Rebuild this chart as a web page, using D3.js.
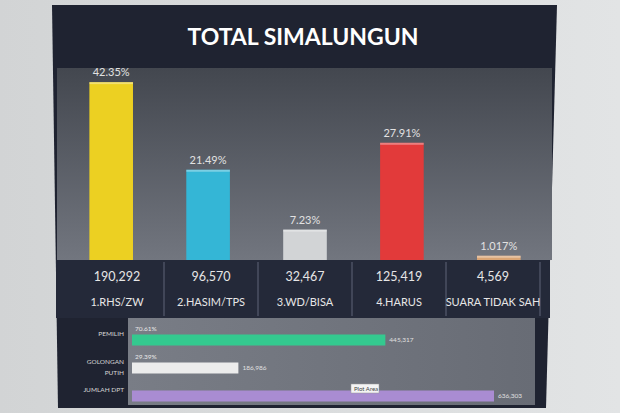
<!DOCTYPE html>
<html>
<head>
<meta charset="utf-8">
<script src="https://cdn.jsdelivr.net/npm/d3@7"></script>
<style>
  body { margin: 0; background: #d7d9da; }
  svg { display: block; }
  text { font-family: Lato, "Open Sans", sans-serif; }
</style>
</head>
<body>
<svg id="chart" width="620" height="413"></svg>
<script>
// main bars
var candidates = ["1.RHS/ZW", "2.HASIM/TPS", "3.WD/BISA", "4.HARUS", "SUARA TIDAK SAH"];
var percents = [42.35, 21.49, 7.23, 27.91, 1.017];
var percentLabels = ["42.35%", "21.49%", "7.23%", "27.91%", "1.017%"];
var votes = ["190,292", "96,570", "32,467", "125,419", "4,569"];
var barColors = ["#ecd022", "#34b6d6", "#d2d4d6", "#e23a3a", "#d9a474"];

// bottom bars
var rows = ["PEMILIH", "GOLONGAN PUTIH", "JUMLAH DPT"];
var rowValues = [445317, 186986, 636303];
var rowValueLabels = ["445,317", "186,986", "636,303"];
var rowPercents = ["70.61%", "29.39%", ""];
var rowColors = ["#34c98f", "#ececec", "#a98cd2"];

var svg = d3.select("#chart");
var defs = svg.append("defs");

var g1 = defs.append("linearGradient").attr("id", "plotbg").attr("x1", 0).attr("y1", 0).attr("x2", 0).attr("y2", 1);
g1.append("stop").attr("offset", "0%").attr("stop-color", "#43474f");
g1.append("stop").attr("offset", "100%").attr("stop-color", "#72767f");

var g2 = defs.append("linearGradient").attr("id", "lowbg").attr("x1", 0).attr("y1", 0).attr("x2", 1).attr("y2", 0);
g2.append("stop").attr("offset", "0%").attr("stop-color", "#797d86");
g2.append("stop").attr("offset", "100%").attr("stop-color", "#686c75");

var g3 = defs.append("linearGradient").attr("id", "wall").attr("x1", 0).attr("y1", 0).attr("x2", 1).attr("y2", 0);
g3.append("stop").attr("offset", "0%").attr("stop-color", "#d2d4d5");
g3.append("stop").attr("offset", "100%").attr("stop-color", "#e2e4e5");
svg.append("rect").attr("width", 620).attr("height", 413).attr("fill", "url(#wall)");

// monitor panel
svg.append("path")
  .attr("d", "M52,5 L557,5 L546,408 L58,408 Z")
  .attr("fill", "#1f2331");

// title
svg.append("text")
  .attr("x", 303).attr("y", 45)
  .attr("text-anchor", "middle")
  .attr("fill", "#ffffff")
  .attr("font-size", 23)
  .attr("font-weight", "bold")
  .text("TOTAL SIMALUNGUN");

// plot area
svg.append("rect").attr("x", 57).attr("y", 68).attr("width", 495).attr("height", 192).attr("fill", "url(#plotbg)");

var x = d3.scaleBand().domain(candidates).range([70, 540]).paddingInner(0.55).paddingOuter(0.2);
var y = d3.scaleLinear().domain([0, 50]).range([260, 50]);

var bars = svg.append("g").selectAll("g").data(candidates).enter().append("g");

bars.append("rect")
  .attr("x", function(d) { return x(d); })
  .attr("width", x.bandwidth())
  .attr("y", function(d, i) { return y(percents[i]); })
  .attr("height", function(d, i) { return y(0) - y(percents[i]); })
  .attr("fill", function(d, i) { return barColors[i]; });

bars.append("rect")
  .attr("x", function(d) { return x(d); })
  .attr("width", x.bandwidth())
  .attr("y", function(d, i) { return y(percents[i]); })
  .attr("height", 2)
  .attr("fill", "#ffffff").attr("opacity", 0.35);

bars.append("text")
  .attr("x", function(d) { return x(d) + x.bandwidth() / 2; })
  .attr("y", function(d, i) { return y(percents[i]) - 6; })
  .attr("text-anchor", "middle")
  .attr("fill", "#e2e2e2")
  .attr("font-size", 11)
  .text(function(d, i) { return percentLabels[i]; });

// table row
svg.append("rect").attr("x", 56).attr("y", 260).attr("width", 494).attr("height", 58).attr("fill", "#242939");

var cols = d3.scaleBand().domain(candidates).range([70, 540]);
svg.append("g").selectAll("line").data(candidates.slice(1)).enter().append("line")
  .attr("x1", function(d) { return cols(d); }).attr("x2", function(d) { return cols(d); })
  .attr("y1", 262).attr("y2", 316)
  .attr("stroke", "#4b5163").attr("stroke-width", 1.5);
svg.append("line").attr("x1", 540).attr("x2", 540).attr("y1", 262).attr("y2", 316)
  .attr("stroke", "#4b5163").attr("stroke-width", 1.5);

svg.append("g").selectAll("text").data(candidates).enter().append("text")
  .attr("x", function(d) { return cols(d) + cols.bandwidth() / 2; })
  .attr("y", 281)
  .attr("text-anchor", "middle")
  .attr("fill", "#e6e6e6")
  .attr("font-size", 12.5)
  .text(function(d, i) { return votes[i]; });

svg.append("g").selectAll("text").data(candidates).enter().append("text")
  .attr("x", function(d) { return cols(d) + cols.bandwidth() / 2; })
  .attr("y", 306)
  .attr("text-anchor", "middle")
  .attr("fill", "#e6e6e6")
  .attr("font-size", 11)
  .text(function(d) { return d; });

// bottom bar chart
svg.append("rect").attr("x", 128).attr("y", 318).attr("width", 407).attr("height", 87).attr("fill", "url(#lowbg)");

var xb = d3.scaleLinear().domain([0, 636303]).range([132, 494]);
var yb = d3.scaleBand().domain(rows).range([326, 410]);
var bh = 11;

var rowG = svg.append("g").selectAll("g").data(rows).enter().append("g");

rowG.append("rect")
  .attr("x", xb(0))
  .attr("y", function(d) { return yb(d) + yb.bandwidth() / 2 - bh / 2; })
  .attr("width", function(d, i) { return xb(rowValues[i]) - xb(0); })
  .attr("height", bh)
  .attr("fill", function(d, i) { return rowColors[i]; });

rowG.append("text")
  .attr("x", function(d, i) { return xb(rowValues[i]) + 4; })
  .attr("y", function(d) { return yb(d) + yb.bandwidth() / 2 + 2; })
  .attr("fill", "#e0e0e0")
  .attr("font-size", 6.5)
  .text(function(d, i) { return rowValueLabels[i]; });

rowG.append("text")
  .attr("x", xb(0) + 3)
  .attr("y", function(d) { return yb(d) + yb.bandwidth() / 2 - bh / 2 - 4; })
  .attr("fill", "#e8e8e8")
  .attr("font-size", 6.5)
  .text(function(d, i) { return rowPercents[i]; });

// row names, golongan putih split on two lines
rowG.each(function(d) {
  var words = d === "GOLONGAN PUTIH" ? ["GOLONGAN", "PUTIH"] : [d];
  var base = yb(d) + yb.bandwidth() / 2 - 4;
  var t = d3.select(this).append("text")
    .attr("text-anchor", "end")
    .attr("fill", "#d6d6d6")
    .attr("font-size", 6.5);
  words.forEach(function(w, k) {
    t.append("tspan").attr("x", 124).attr("y", base - (words.length - 1) * 11 + k * 11 + (words.length > 1 ? 11 : 0)).text(w);
  });
});

// tooltip left on the screen
var tip = svg.append("g").attr("transform", "translate(351,384)");
tip.append("rect").attr("width", 28).attr("height", 9).attr("fill", "#f4f4f4").attr("stroke", "#999").attr("stroke-width", 0.5);
tip.append("text").attr("x", 3).attr("y", 7).attr("font-size", 6).attr("fill", "#444").text("Plot Area");
</script>
</body>
</html>
